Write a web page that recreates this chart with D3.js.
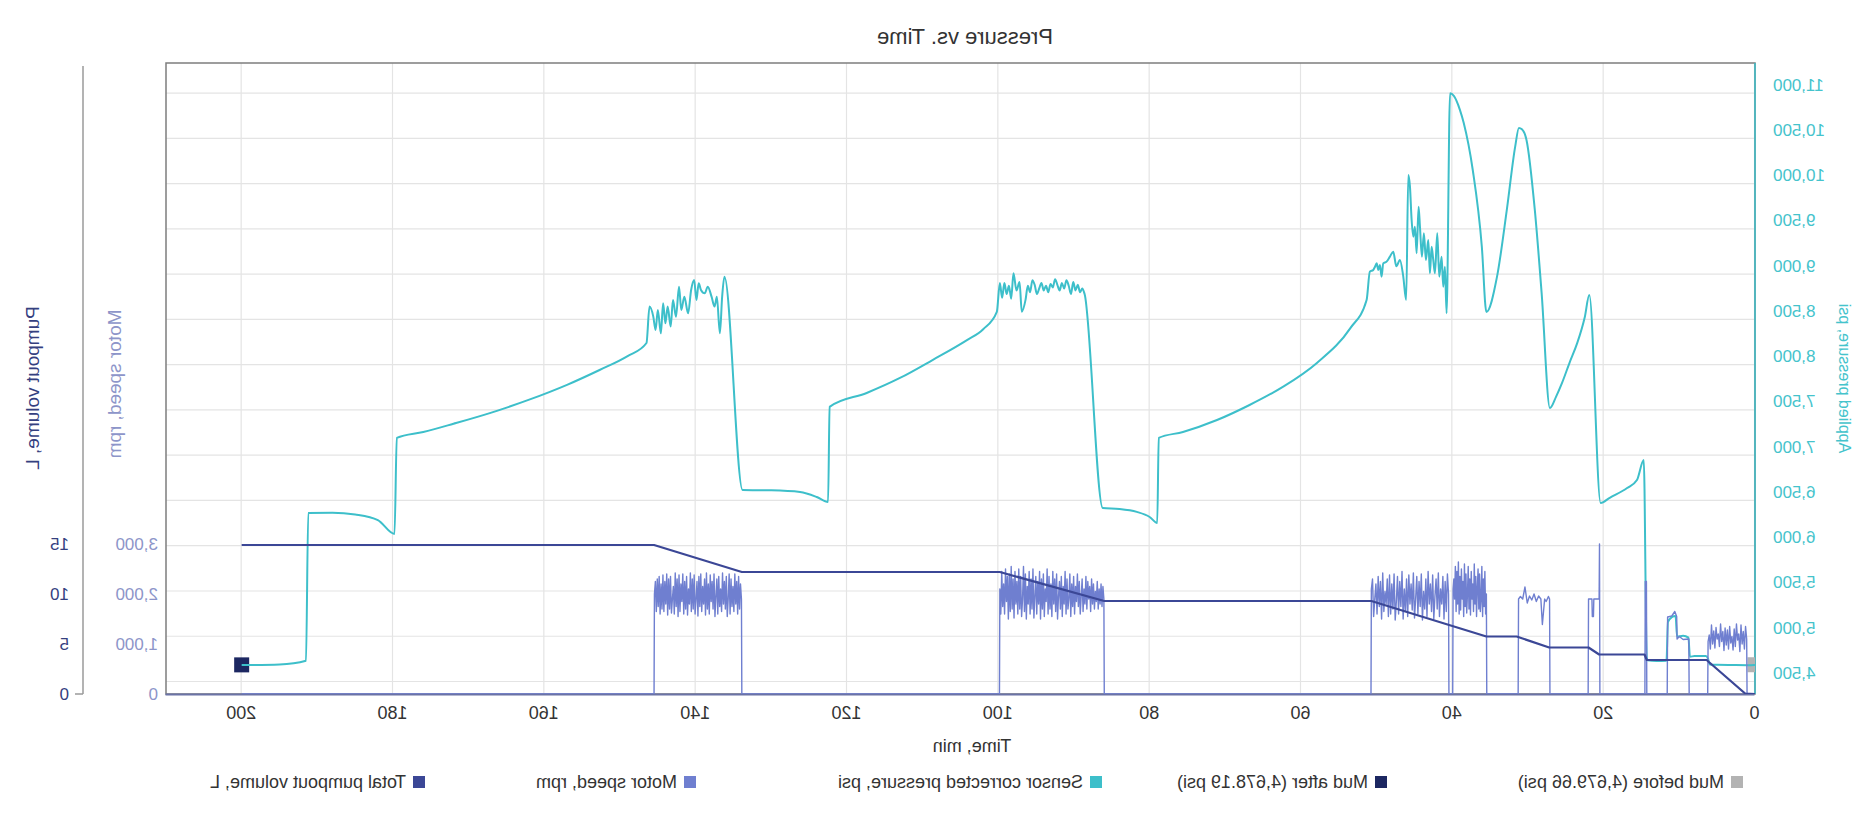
<!DOCTYPE html>
<html><head><meta charset="utf-8">
<script src="https://cdn.jsdelivr.net/npm/d3@7/dist/d3.min.js"></script>
<style>
body{margin:0;background:#fff;}
svg{display:block;}
text{font-family:"Liberation Sans", Arial, Helvetica, sans-serif;}
</style>
</head><body>
<svg id="chart" width="1872" height="830"></svg>
<script>
// ---------------- DATA ----------------
const chartTitle = "Pressure vs. Time";
const timeTicks = [0, 20, 40, 60, 80, 100, 120, 140, 160, 180, 200];
const pressureTicks = [4500, 5000, 5500, 6000, 6500, 7000, 7500, 8000, 8500, 9000, 9500, 10000, 10500, 11000];
const motorTicks = [0, 1000, 2000, 3000];
const pumpTicks = [0, 5, 10, 15];
const legendLabels = ["Mud before (4,679.66 psi)", "Mud after (4,678.19 psi)", "Sensor corrected pressure, psi", "Motor speed, rpm", "Total pumpout volume, L"];

// [time (min), value]
const mudBefore = [[0, 4679.66]];
const mudAfter = [[200, 4678.19]];

// Sensor corrected pressure, psi
const pressurePoints = [
[0.0,4678],[1.0,4674],[3.0,4676],[5.0,4679],[6.0,4683],[6.2,4744],[6.5,4775],[8.0,4775],[8.6,4769],[8.8,4979],
[9.5,5000],[10.3,4990],[10.5,5219],[11.0,5205],[11.5,5153],[11.7,4724],[13.0,4721],[14.2,4729],[14.3,4754],[14.7,6941],
[15.6,6720],[16.9,6632],[19.2,6524],[20.4,6467],[21.9,8764],[22.5,8519],[23.5,8232],[24.5,8018],[25.5,7793],[26.3,7639],
[27.1,7516],[28.2,8787],[29.1,9704],[30.2,10477],[30.8,10596],[31.2,10610],[31.7,10401],[32.8,9704],[34.1,8964],[35.5,8577],
[36.1,9296],[37.3,10145],[38.5,10667],[39.0,10810],[39.8,10964],[40.3,10992],[40.76,8563],[40.98,9077],[41.2,8856],[41.42,9188],
[41.73,8967],[41.99,9447],[42.3,9004],[42.52,9151],[42.74,9298],[42.96,9004],[43.18,9372],[43.49,9151],[43.76,9447],[44.02,9188],
[44.28,9519],[44.46,9740],[44.72,9225],[44.94,9519],[45.16,9409],[45.38,9593],[45.6,9961],[45.82,10090],[46.1,8709],[46.5,8979],
[46.93,9151],[47.4,9081],[47.81,9243],[48.25,9188],[48.69,9133],[49.13,9114],[49.35,8967],[49.57,9096],[49.79,9041],[50.0,9114],
[50.22,9077],[50.45,9041],[50.9,9022],[51.33,8709],[53.5,8396],[57.9,8014],[62.4,7749],[66.8,7549],[71.1,7383],[75.6,7251],
[78.8,7185],[79.0,6246],[80.0,6312],[81.7,6368],[84.0,6401],[86.2,6411],[88.6,8775],[88.9,8836],[89.2,8795],[89.5,8877],
[89.8,8815],[90.1,8908],[90.4,8775],[90.7,8867],[91.0,8928],[91.3,8836],[91.6,8897],[91.9,8815],[92.2,8877],[92.5,8938],
[92.8,8846],[93.1,8887],[93.4,8795],[93.7,8867],[94.0,8815],[94.3,8897],[94.6,8836],[94.9,8775],[95.2,8877],[95.5,8928],
[95.8,8795],[96.1,8867],[96.4,8713],[96.9,8580],[97.2,8908],[97.6,8815],[98.0,9005],[98.3,8723],[98.6,8867],[98.9,8775],
[99.2,8897],[99.5,8734],[99.8,8897],[100.2,8577],[102.0,8386],[104.2,8263],[108.7,8046],[113.0,7848],[117.4,7682],[122.3,7528],
[122.5,6478],[124.0,6533],[126.2,6588],[130.0,6606],[133.8,6610],[136.2,8967],[136.5,8746],[136.8,8341],[137.2,8746],[137.5,8636],
[137.9,8746],[138.4,8856],[138.8,8783],[139.3,8820],[139.6,8893],[139.9,8709],[140.2,8930],[140.6,8820],[141.0,8562],[141.5,8746],
[141.9,8599],[142.2,8856],[142.6,8525],[143.0,8709],[143.3,8415],[143.7,8636],[144.0,8451],[144.3,8672],[144.6,8341],[145.0,8599],
[145.3,8378],[145.6,8525],[146.1,8636],[146.5,8234],[149.0,8089],[152.7,7936],[157.0,7772],[162.0,7608],[167.0,7465],[172.0,7342],
[176.0,7250],[179.5,7185],[179.8,6125],[182.0,6278],[185.0,6340],[188.0,6360],[191.2,6356],[191.5,4724],[195.0,4683],[200.0,4676]
];

// Motor speed, rpm: steps between runs
const motorSteps = [
[0,0],[1.05,0],[6.25,0],[8.7,0],[8.75,1100],[9.5,1090],[10.0,1150],[10.3,1100],[10.35,1550],[10.6,1650],
[11.0,1560],[11.55,1540],[11.6,0],[14.3,0],[14.35,2250],[14.5,2250],[14.55,0],[20.5,0],[20.55,3000],[20.6,1900],
[21.3,1900],[21.35,1550],[21.5,1550],[21.55,1900],[22.0,1900],[22.05,0],[27.1,0],[27.15,1900],[27.3,1950],[27.6,1850],
[27.8,1900],[28.1,1390],[28.3,1900],[28.6,1960],[28.9,1850],[29.2,2000],[29.5,1880],[29.8,1960],[30.1,1820],[30.4,2140],
[30.7,1900],[31.0,1950],[31.25,1900],[31.3,0],[35.45,0],[39.95,0],[40.45,0],[50.75,0],[86.0,0],[99.85,0],
[133.9,0],[145.5,0],[200,0]
];
// Motor speed, rpm: sampled runs (start time, sample interval, readings)
const motorRunA = {start: 1.1, step: 0.15, values: [1100,1350,900,1250,1000,1380,850,1200,1080,1400,950,1300,880,1150,1020,1350,900,1280,980,1320,870,1250,1050,1400,950,1200,1100,1330,920,1260,1000,1380,900,1180,1050]};
const motorRunB = {start: 35.5, step: 0.1, values: [2000,1600,2450,1750,2300,1550,2550,1900,1650,2400,1700,2500,2100,1550,2350,1800,2600,1650,2200,1900,2450,1580,2300,1700,2550,2000,1620,2400,1750,2600,1550,2250,1900,2500,1680,2350,1600,2640,1800,2450,1650,2550,1900,2300,2100]};
const motorRunC = {start: 40.5, step: 0.15, values: [2000,2400,1650,2250,1500,2350,1800,2100,1550,2420,1700,2300,1950,1500,2380,1650,2200,1800,2450,1550,2300,1700,2050,1480,2400,1750,2250,1600,2350,1900,1520,2420,1680,2200,1800,2380,1550,2300,1650,2100,1500,2450,1750,2250,1600,2350,1850,1480,2400,1700,2200,1600,2380,1550,2300,1800,2050,1650,2420,1500,2250,1750,2350,1600,2200,1900,1550,2300,2100]};
const motorRunD = {start: 86.05, step: 0.125, values: [1900,2150,1750,2200,1800,2100,1700,2250,1850,2050,1700,2200,1800,2300,1650,2150,1900,2250,1700,2350,1800,2100,1650,2300,1950,1600,2250,1750,2400,1850,2150,1600,2350,1750,2200,1550,2400,1900,1700,2300,1600,2450,1800,2150,1550,2350,1700,2250,1950,1500,2400,1650,2300,1800,2450,1550,2200,1700,2350,1600,2500,1850,2100,1550,2400,1700,2300,1500,2450,1800,2250,1600,2350,1950,1520,2500,1700,2300,1600,2450,1800,2150,1500,2400,1650,2550,1900,1550,2350,1700,2500,1600,2250,1800,2450,1520,2300,1700,2550,1650,2400,1500,2350,1850,2500,1600,2200,1750,2450,1600,2100]};
const motorRunE = {start: 133.95, step: 0.125, values: [1900,2200,1700,2350,1600,2250,1800,2400,1650,2150,1750,2300,1600,2400,1900,1550,2350,1700,2250,1800,2420,1650,2100,1750,2350,1600,2300,1950,1550,2400,1700,2250,1850,2380,1600,2200,1700,2420,1580,2300,1800,2150,1650,2400,1750,2350,1560,2250,1900,1600,2380,1700,2300,1650,2420,1800,2100,1580,2350,1700,2250,1600,2400,1850,2200,1650,2380,1550,2300,1750,2420,1600,2150,1900,1620,2350,1700,2300,1580,2400,1800,2250,1650,2380,1700,2200,1600,2350,1750,2300,1650,2250,2000]};

// Total pumpout volume, L
const pumpPoints = [[0,0],[1.3,0.05],[6.4,3.4],[14.3,3.4],[14.6,3.95],[20.6,3.95],[22.0,4.65],[27.2,4.65],[31.5,5.75],[35.5,5.75],[50.7,9.3],[86.0,9.3],[99.8,12.2],[133.9,12.2],[145.5,14.9],[200,14.9]];

// ---------------- LAYOUT ----------------
const W = 1872, H = 830;
const plot = {left: 117, right: 1706, top: 63, bottom: 694};
const colors = {
  mudBefore: "#b3b3b3", mudAfter: "#1c2761", pressure: "#3dbfca",
  motor: "#6f7fd0", pump: "#3b4796", grid: "#e4e4e4", text: "#333333",
  pressureLabel: "#45c3cc", motorLabel: "#8d95c9", pumpLabel: "#34407f"
};
const FONT = '"Liberation Sans", Arial, Helvetica, sans-serif';

const motorPoints = motorSteps.slice();
[motorRunA, motorRunB, motorRunC, motorRunD, motorRunE].forEach(r =>
  r.values.forEach((v, i) => motorPoints.push([r.start + i * r.step, v])));
motorPoints.sort((a, b) => a[0] - b[0]);

const svg = d3.select("#chart");
// The reference picture is horizontally mirrored: draw normally, then mirror the whole group.
const root = svg.append("g").attr("transform", `translate(${W},0) scale(-1,1)`);

const x = d3.scaleLinear().domain([0, 210]).range([plot.left, plot.right]);
const yP = d3.scaleLinear().domain([4500, 11000]).range([681, 681 - 13 * 45.26]);
const yM = d3.scaleLinear().domain([0, 3000]).range([plot.bottom, 544]);
const yV = d3.scaleLinear().domain([0, 15]).range([plot.bottom, 544]);

root.append("defs").append("clipPath").attr("id", "clip")
  .append("rect").attr("x", plot.left).attr("y", plot.top)
  .attr("width", plot.right - plot.left).attr("height", plot.bottom - plot.top);

// grid
const gx = root.append("g").attr("transform", `translate(0,${plot.bottom})`)
  .call(d3.axisBottom(x).tickValues(timeTicks).tickSize(-(plot.bottom - plot.top)).tickFormat(""));
gx.select(".domain").remove();
gx.selectAll("line").attr("stroke", colors.grid).attr("stroke-width", 1.2);
const gy = root.append("g").attr("transform", `translate(${plot.left},0)`)
  .call(d3.axisLeft(yP).tickValues(pressureTicks).tickSize(-(plot.right - plot.left)).tickFormat(""));
gy.select(".domain").remove();
gy.selectAll("line").attr("stroke", colors.grid).attr("stroke-width", 1.2);

// plot border
root.append("rect").attr("x", plot.left).attr("y", plot.top)
  .attr("width", plot.right - plot.left).attr("height", plot.bottom - plot.top)
  .attr("fill", "none").attr("stroke", "#7d7d7d").attr("stroke-width", 1.5);

// x axis
const ax = root.append("g").attr("transform", `translate(0,${plot.bottom})`)
  .call(d3.axisBottom(x).tickValues(timeTicks).tickSize(0).tickPadding(12));
ax.select(".domain").attr("stroke", "#6b73a6").attr("stroke-width", 2);
ax.selectAll("text").attr("font-size", 18).attr("fill", colors.text).attr("font-family", FONT);
root.append("text").attr("x", 900).attr("y", 752)
  .attr("text-anchor", "middle").attr("font-size", 18).attr("fill", colors.text)
  .attr("font-family", FONT).text("Time, min");

// pressure axis
const ap = root.append("g").attr("transform", `translate(${plot.left},0)`)
  .call(d3.axisLeft(yP).tickValues(pressureTicks).tickSize(0).tickPadding(18).tickFormat(d3.format(",")));
ap.select(".domain").remove();
ap.selectAll("text").attr("font-size", 17).attr("fill", colors.pressureLabel)
  .attr("font-family", FONT).attr("y", -8);
root.append("line").attr("x1", plot.left).attr("x2", plot.left)
  .attr("y1", plot.top).attr("y2", plot.bottom)
  .attr("stroke", colors.pressure).attr("stroke-width", 1.5);
root.append("text").attr("transform", `translate(33,${(plot.top + plot.bottom) / 2}) rotate(-90)`)
  .attr("text-anchor", "middle").attr("font-size", 16).attr("fill", colors.pressureLabel)
  .attr("font-family", FONT).text("Applied pressure, psi");

// motor speed axis
const am = root.append("g").attr("transform", `translate(${plot.right + 8},0)`)
  .call(d3.axisRight(yM).tickValues(motorTicks).tickSize(0).tickPadding(0).tickFormat(d3.format(",")));
am.select(".domain").remove();
am.selectAll("text").attr("font-size", 17).attr("fill", colors.motorLabel).attr("font-family", FONT);
root.append("text").attr("transform", `translate(1751,384) rotate(90)`)
  .attr("text-anchor", "middle").attr("font-size", 19).attr("fill", colors.motorLabel)
  .attr("font-family", FONT).text("Motor speed, rpm");

// pumpout axis
const pumpAxisX = 1789;
root.append("line").attr("x1", pumpAxisX).attr("x2", pumpAxisX)
  .attr("y1", plot.top + 3).attr("y2", plot.bottom)
  .attr("stroke", "#9a9a9a").attr("stroke-width", 1.5);
root.append("line").attr("x1", pumpAxisX).attr("x2", pumpAxisX + 8)
  .attr("y1", yV(0)).attr("y2", yV(0)).attr("stroke", "#9a9a9a").attr("stroke-width", 1.5);
const av = root.append("g").attr("transform", `translate(${pumpAxisX + 14},0)`)
  .call(d3.axisRight(yV).tickValues(pumpTicks).tickSize(0).tickPadding(0));
av.select(".domain").remove();
av.selectAll("text").attr("font-size", 17).attr("fill", colors.pumpLabel).attr("font-family", FONT);
root.append("text").attr("transform", `translate(1833,388) rotate(90)`)
  .attr("text-anchor", "middle").attr("font-size", 19).attr("fill", colors.pumpLabel)
  .attr("font-family", FONT).text("Pumpout volume, L");

// series
const series = root.append("g").attr("clip-path", "url(#clip)");
const mk = 15;
series.selectAll(".mudBefore").data(mudBefore).enter().append("rect")
  .attr("x", d => x(d[0]) - mk / 2).attr("y", d => yP(d[1]) - mk / 2)
  .attr("width", mk).attr("height", mk).attr("fill", colors.mudBefore);
series.selectAll(".mudAfter").data(mudAfter).enter().append("rect")
  .attr("x", d => x(d[0]) - mk / 2).attr("y", d => yP(d[1]) - mk / 2)
  .attr("width", mk).attr("height", mk).attr("fill", colors.mudAfter);

series.append("path").datum(pressurePoints)
  .attr("fill", "none").attr("stroke", colors.pressure).attr("stroke-width", 2)
  .attr("stroke-linejoin", "round")
  .attr("d", d3.line().curve(d3.curveMonotoneX).x(d => x(d[0])).y(d => yP(d[1])));
series.append("path").datum(motorPoints)
  .attr("fill", "none").attr("stroke", colors.motor).attr("stroke-width", 1.4)
  .attr("stroke-linejoin", "round")
  .attr("d", d3.line().x(d => x(d[0])).y(d => yM(d[1])));
series.append("path").datum(pumpPoints)
  .attr("fill", "none").attr("stroke", colors.pump).attr("stroke-width", 2.2)
  .attr("stroke-linejoin", "round")
  .attr("d", d3.line().x(d => x(d[0])).y(d => yV(d[1])));

// title
root.append("text").attr("x", 907).attr("y", 44).attr("text-anchor", "middle")
  .attr("font-size", 22).attr("fill", colors.text).attr("font-family", FONT).text(chartTitle);

// legend
const legendColors = [colors.mudBefore, colors.mudAfter, colors.pressure, colors.motor, colors.pump];
const legendX = [135, 491, 776, 1182, 1453];
const lg = root.append("g").attr("transform", "translate(0,782)");
const items = lg.selectAll("g").data(legendLabels).enter().append("g")
  .attr("transform", (d, i) => `translate(${legendX[i]},0)`);
items.append("rect").attr("x", -6).attr("y", -6).attr("width", 12).attr("height", 12)
  .attr("fill", (d, i) => legendColors[i]);
items.append("text").attr("x", 13).attr("y", 0).attr("dy", "0.35em")
  .attr("font-size", 18).attr("fill", colors.text).attr("font-family", FONT).text(d => d);
</script>
</body></html>
